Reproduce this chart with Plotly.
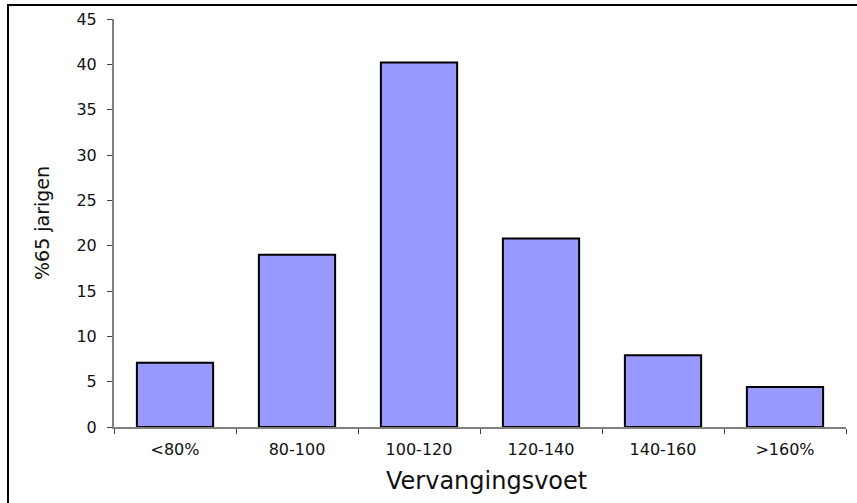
import plotly.graph_objects as go

categories = ["<80%", "80-100", "100-120", "120-140", "140-160", ">160%"]
values = [7.1, 19.0, 40.2, 20.8, 7.9, 4.4]
y_ticks = [0, 5, 10, 15, 20, 25, 30, 35, 40, 45]

FONT = "DejaVu Sans, Arial, sans-serif"

fig = go.Figure(
    go.Bar(
        x=categories,
        y=values,
        marker=dict(color="#9999FF", line=dict(color="#000000", width=2)),
        width=0.625,
    )
)

L, R, T, B = 114, 11, 19, 76
W, H = 857, 503
pw, ph = W - L - R, H - T - B

fig.update_layout(
    width=W,
    height=H,
    autosize=False,
    margin=dict(l=L, r=R, t=T, b=B, pad=0, autoexpand=False),
    plot_bgcolor="white",
    paper_bgcolor="white",
    showlegend=False,
    font=dict(family=FONT, color="#000000", size=16),
    bargap=0.375,
)

fig.update_xaxes(
    type="category",
    automargin=False,
    showline=True,
    linecolor="#808080",
    linewidth=2,
    ticks="outside",
    tickson="boundaries",
    ticklen=5,
    tickcolor="#404040",
    tickwidth=1,
    showgrid=False,
    tickfont=dict(size=16, family=FONT, color="#111111"),
    ticklabelstandoff=7,
)

fig.update_yaxes(
    range=[0, 45],
    automargin=False,
    tickvals=y_ticks,
    showline=True,
    linecolor="#808080",
    linewidth=2,
    ticks="outside",
    ticklen=5,
    tickcolor="#404040",
    tickwidth=1,
    showgrid=False,
    zeroline=False,
    tickfont=dict(size=16, family=FONT, color="#111111"),
    ticklabelstandoff=7,
)

# axis titles as annotations (pixel-placed)
fig.add_annotation(
    text="Vervangingsvoet",
    xref="paper", yref="paper",
    x=(487 - L) / pw, y=(H - B - 481) / ph,
    xanchor="center", yanchor="middle",
    showarrow=False,
    font=dict(size=24, family=FONT, color="#111111"),
)
fig.add_annotation(
    text="%65 jarigen",
    xref="paper", yref="paper",
    x=(42 - L) / pw, y=(H - B - 223) / ph,
    xanchor="center", yanchor="middle",
    textangle=-90,
    showarrow=False,
    font=dict(size=19, family=FONT, color="#111111"),
)

# outer frame
fig.add_shape(
    type="rect",
    xref="paper",
    yref="paper",
    x0=(8 - L) / pw,
    x1=(W + 20 - L) / pw,
    y0=(H - B - (H + 20)) / ph,
    y1=(H - B - 5) / ph,
    line=dict(color="#000000", width=2),
    fillcolor="rgba(0,0,0,0)",
    layer="below",
)

fig.write_html(
    "out.html",
    config={"displayModeBar": False},
    post_script="document.body.style.margin='0px';document.body.style.overflow='hidden';",
)
